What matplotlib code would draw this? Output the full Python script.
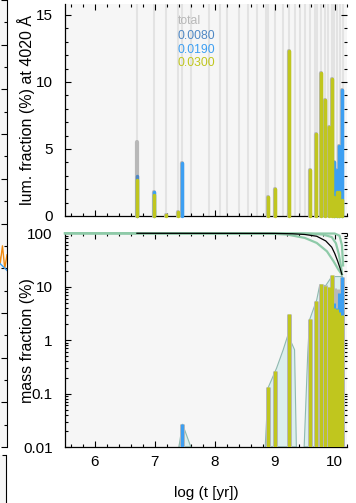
import matplotlib
matplotlib.use("Agg")
import matplotlib.pyplot as plt
import numpy as np
from matplotlib.ticker import MultipleLocator, FixedLocator, FixedFormatter, LogLocator, NullFormatter

plt.rcParams['font.family'] = ['Liberation Sans', 'DejaVu Sans']

# ages of the base (log t) -> light gray grid lines in top panel
base_ages = [6.70, 6.99, 7.18, 7.39, 7.46, 7.61, 7.91, 8.09, 8.21, 8.41, 8.56, 8.70,
             8.85, 8.89, 9.00, 9.14, 9.23, 9.34, 9.42, 9.51, 9.59, 9.67, 9.70, 9.77,
             9.84, 9.89, 9.95, 9.99, 10.04, 10.09, 10.13]

# ages that carry light / mass
bar_ages = [6.70, 6.99, 7.18, 7.39, 7.46, 8.89, 9.00, 9.23, 9.59, 9.69, 9.77,
            9.84, 9.90, 9.95, 9.99, 10.03, 10.07, 10.12]

# luminosity fraction (%) at 4020 A
lum_total = [5.55, 1.77, 0.10, 0.32, 3.93, 1.45, 2.0, 12.3, 3.4, 6.1, 10.7,
             8.66, 6.66, 10.22, 4.05, 3.43, 5.25, 9.40]
lum_z008 = [3.0, 0, 0, 0, 0, 0, 0, 0, 0, 0, 0, 0, 0, 0, 0, 0, 0, 0]
lum_z019 = [0, 1.77, 0, 0, 3.93, 0, 0, 0, 0, 0, 0, 0, 0, 0, 4.05, 3.43, 5.25, 9.40]
lum_z030 = [2.69, 1.57, 0.10, 0.32, 0, 1.45, 2.0, 12.3, 3.4, 6.1, 10.7,
            8.66, 6.66, 10.22, 1.44, 1.77, 1.80, 1.20]

# mass fraction (%)
mass_total = [0, 0, 0, 0, 0.027, 0.13, 0.26, 3.1, 2.45, 5.3, 11.2,
              10.7, 10.0, 16.6, 9.4, 8.2, 9.0, 15.5]
mass_z019 = [0, 0, 0, 0, 0.027, 0, 0, 0, 0, 0, 0, 0, 0, 0, 5.0, 4.0, 7.5, 15.0]
mass_z030 = [0, 0, 0, 0, 0, 0.13, 0.26, 3.1, 2.45, 5.3, 11.2,
             10.5, 10.0, 16.6, 4.0, 3.8, 3.3, 2.9]

# smoothed mass fraction envelope (filled)
env1_t = [7.40, 7.46, 7.60]
env1_v = [0.01, 0.027, 0.01]
env2_t = [8.84, 8.89, 9.03, 9.14, 9.22, 9.33, 9.36]
env2_v = [0.01, 0.13, 0.30, 0.66, 1.26, 0.66, 0.01]
env3_t = [9.49, 9.55, 9.58, 9.70, 9.75, 9.85, 9.95, 10.13, 10.13]
env3_v = [0.01, 0.57, 2.4, 5.7, 10.8, 10.5, 15.5, 15.5, 0.01]

# cumulative mass curves
cum_black_t = [6.70, 9.00, 9.30, 9.50, 9.70, 9.85, 9.95, 10.00, 10.05, 10.09, 10.12]
cum_black_v = [100, 99.5, 98, 95, 88, 72, 55, 42, 30, 22, 17]
cum_g1_t = [5.50, 8.90, 9.20, 9.50, 9.70, 9.87, 9.98, 10.06, 10.12]
cum_g1_v = [100, 99, 95, 82, 66, 46, 30, 21, 17]
cum_g2_t = [5.50, 9.50, 9.80, 9.95, 10.02, 10.07, 10.11, 10.12]
cum_g2_v = [100, 99, 95, 85, 65, 40, 22, 17]
cum_g3_t = [5.50, 10.00, 10.08, 10.12, 10.14]
cum_g3_v = [100, 99, 90, 60, 25]

# partial neighbour panel at the left edge
side_x = [0.90, 0.92, 0.94, 0.96, 0.98, 1.00]
side_orange = [0.42, 0.46, 0.41, 0.45, 0.40, 0.43]
side_blue = [0.41, 0.415, 0.41, 0.405, 0.40, 0.395]

c_total = '#b8b8b8'
c_z008 = '#4f88c4'
c_z019 = '#3d9ff2'
c_z030 = '#c0c61e'
c_bg = '#f6f6f6'

fig = plt.figure(figsize=(3.56, 5.03), dpi=100)

def style(ax):
    ax.set_facecolor(c_bg)
    ax.spines['top'].set_visible(False)
    ax.spines['right'].set_visible(False)
    for s in ['left', 'bottom']:
        ax.spines[s].set_linewidth(0.9)
    ax.tick_params(which='both', direction='in', top=True, right=True,
                   width=0.8, labelsize=11)
    ax.tick_params(axis='y', pad=9)
    ax.tick_params(axis='x', pad=6)
    ax.tick_params(which='major', length=4.5)
    ax.tick_params(which='minor', length=2.2)
    ax.set_xlim(5.5, 10.2)
    ax.xaxis.set_major_locator(MultipleLocator(1))
    ax.xaxis.set_minor_locator(MultipleLocator(0.2))

# ---- top panel: luminosity fractions
ax1 = fig.add_axes([0.1826, 0.5706, 0.7913, 0.4205])
style(ax1)
ax1.set_ylim(0, 15.78)
ax1.yaxis.set_major_locator(MultipleLocator(5))
ax1.yaxis.set_minor_locator(MultipleLocator(1))
ax1.tick_params(labelbottom=False)
ax1.vlines(base_ages, 0, 15.78, color='#e3e3e3', lw=1.5, zorder=1)
for vals, col, lw in [(lum_total, c_total, 3.0), (lum_z008, c_z008, 2.5),
                      (lum_z019, c_z019, 2.5), (lum_z030, c_z030, 2.5)]:
    for t, v in zip(bar_ages, vals):
        if v > 0:
            ax1.plot([t, t], [0, v], color=col, lw=lw, solid_capstyle='round',
                     zorder=3, clip_on=False)
ax1.set_ylabel('lum. fraction (%) at 4020 Å', fontsize=11.5)
ax1.yaxis.set_label_coords(-0.106, 0.5)
for txt, col, yy in [('total', c_total, 0.922), ('0.0080', c_z008, 0.851),
                     ('0.0190', c_z019, 0.785), ('0.0300', c_z030, 0.723)]:
    ax1.text(0.401, yy, txt, color=col, fontsize=8.8, transform=ax1.transAxes,
             va='center', ha='left')

# ---- bottom panel: mass fractions
ax2 = fig.add_axes([0.1826, 0.1113, 0.7913, 0.4249])
style(ax2)
ax2.set_yscale('log')
ax2.set_ylim(0.01, 100)
ax2.yaxis.set_major_locator(FixedLocator([0.01, 0.1, 1, 10, 100]))
ax2.yaxis.set_major_formatter(FixedFormatter(['0.01', '0.1', '1', '10', '100']))
ax2.yaxis.set_minor_locator(LogLocator(base=10, subs=np.arange(2, 10)))
ax2.yaxis.set_minor_formatter(NullFormatter())

for et, ev in [(env1_t, env1_v), (env2_t, env2_v), (env3_t, env3_v)]:
    ax2.fill(et, ev, facecolor='#dcefee', edgecolor='#8fb9b0', lw=0.8, zorder=2)

for t, v in zip(bar_ages, mass_total):
    if v > 0:
        ax2.vlines(t, 0.01, v, color=c_total, lw=3.6, zorder=3)
for vals, col in [(mass_z019, c_z019), (mass_z030, c_z030)]:
    for t, v in zip(bar_ages, vals):
        if v > 0:
            ax2.vlines(t, 0.01, v, color=col, lw=2.2, zorder=4)

for ct, cv in [(cum_g1_t, cum_g1_v), (cum_g2_t, cum_g2_v), (cum_g3_t, cum_g3_v)]:
    ax2.plot(ct, cv, color='#8ecaa8', lw=1.6, zorder=5, clip_on=False)
ax2.plot(cum_black_t, cum_black_v, color='black', lw=0.9, zorder=6, clip_on=False)

ax2.set_ylabel('mass fraction (%)', fontsize=11.5)
ax2.yaxis.set_label_coords(-0.106, 0.5)
ax2.set_xlabel('log (t [yr])', fontsize=11, labelpad=12)

# ---- neighbour panels peeking in at the left edge
ax3 = fig.add_axes([-0.3, 0.1113, 0.3197, 0.8887])
ax3.set_facecolor(c_bg)
ax3.set_xlim(0, 1)
ax3.set_ylim(0, 1)
ax3.plot(side_x, side_orange, color='#f08a10', lw=1.0)
ax3.plot(side_x, side_blue, color='#3d9ff2', lw=1.0)
for s in ['top', 'left', 'bottom']:
    ax3.spines[s].set_visible(False)
ax3.yaxis.tick_right()
ax3.yaxis.set_major_locator(MultipleLocator(0.1))
ax3.yaxis.set_minor_locator(MultipleLocator(0.05))
ax3.tick_params(which='both', direction='in', labelright=False, labelbottom=False,
                bottom=False, width=0.8)
ax3.tick_params(which='major', length=4)
ax3.tick_params(which='minor', length=2)

ax4 = fig.add_axes([-0.3, -0.1, 0.3169, 0.195])
ax4.set_facecolor(c_bg)
for s in ['top', 'left', 'bottom']:
    ax4.spines[s].set_visible(False)
ax4.yaxis.tick_right()
ax4.tick_params(which='both', direction='in', labelright=False, labelbottom=False,
                bottom=False, width=0.8, length=3)

fig.savefig('out.png', dpi=100)
